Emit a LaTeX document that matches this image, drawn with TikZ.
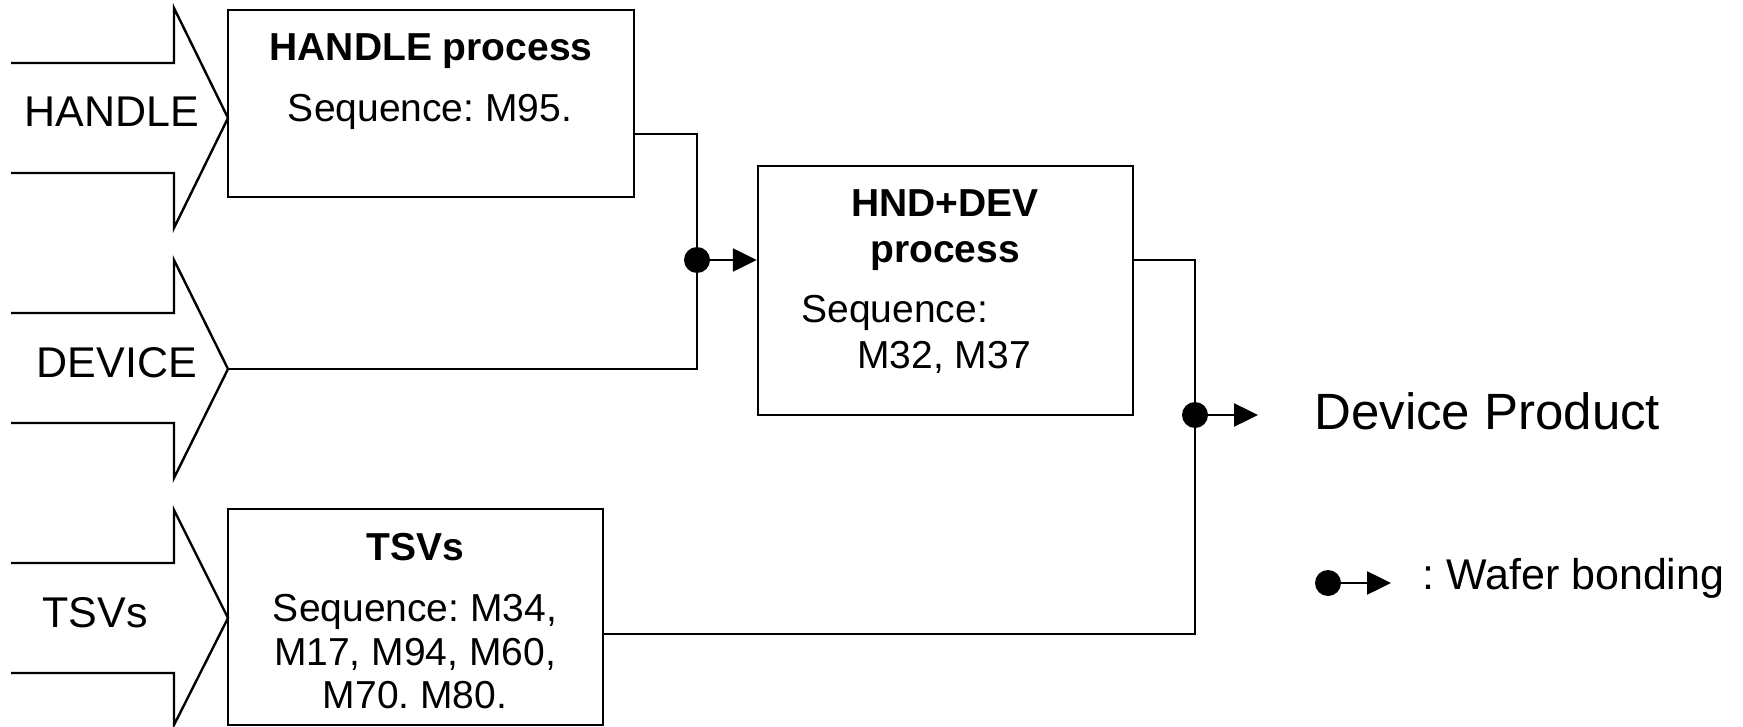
\documentclass[tikz,border=0pt]{standalone}
\usepackage{fontspec}
\setmainfont{Liberation Sans}
\usetikzlibrary{arrows.meta,calc}
\frenchspacing
\begin{document}
\frenchspacing
\begin{tikzpicture}[x=0.5pt,y=-0.5pt,
  lw/.style={line width=1.2pt},
  box/.style={draw,lw,rectangle,inner sep=0pt},
  inarrow/.style={draw,lw,line join=miter},
  conn/.style={draw,lw},
  bond/.style={draw,lw,-{Triangle[length=12pt,width=11.5pt]}},
  dot/.style={circle,fill=black,inner sep=0pt,minimum size=13pt},
  lbl/.style={anchor=base,inner sep=0pt,font=\fontsize{21.5pt}{24pt}\selectfont},
  btxt/.style={anchor=base,inner sep=0pt,font=\fontsize{19.5pt}{22pt}\selectfont},
  bbold/.style={btxt,font=\fontsize{19.5pt}{22pt}\selectfont\bfseries},
  bigtxt/.style={anchor=base west,inner sep=0pt,font=\fontsize{25.5pt}{28pt}\selectfont},
  legtxt/.style={anchor=base west,inner sep=0pt,font=\fontsize{21.5pt}{24pt}\selectfont}
]
\useasboundingbox (0,0) rectangle (1743,727);

% input arrows
\draw[inarrow] (11,63) -- (174,63) -- (174,8) -- (228,118) -- (174,228) -- (174,173) -- (11,173);
\draw[inarrow] (11,313) -- (174,313) -- (174,260) -- (228,369) -- (174,478) -- (174,423) -- (11,423);
\draw[inarrow] (11,563) -- (174,563) -- (174,510) -- (228,618) -- (174,725) -- (174,673) -- (11,673);
\coordinate (devtip) at (228,369);
\node[lbl] (lhandle) at (112,127) {HANDLE};
\node[lbl] (ldevice) at (117,377) {DEVICE};
\node[lbl] (ltsv) at (95,627) {TSVs};

% boxes
\node[box,minimum width=203pt,minimum height=93.5pt] (hp) at (431,103.5) {};
\node[box,minimum width=187.5pt,minimum height=124.5pt] (hd) at (945.5,290.5) {};
\node[box,minimum width=187.5pt,minimum height=108pt] (ts) at (415.5,617) {};

% box texts
\node[bbold] (hpt) at (431,61) {HANDLE process};
\node[btxt] (hps) at (430,122) {Sequence: M95.};
\node[bbold] (hdt1) at (945,217) {HND+DEV};
\node[bbold] (hdt2) at (945,262) {process};
\node[btxt,anchor=base west] (hds1) at (801,322) {Sequence:};
\node[btxt,anchor=base west] (hds2) at (857,368) {M32, M37};
\node[bbold] (tst) at (415,560) {TSVs};
\node[btxt] (tss1) at (415,621) {Sequence: M34,};
\node[btxt] (tss2) at (415,665) {M17, M94, M60,};
\node[btxt] (tss3) at (415,708) {M70. M80.};

% junctions
\node[dot] (j1) at (697,260) {};
\node[dot] (j2) at (1195,415) {};
\coordinate (hpy) at (0,134);
\coordinate (tsy) at (0,634);
\coordinate (prod) at (1258,415);

\draw[conn] (hp.east |- hpy) -| (j1.center);
\draw[conn] (devtip) -| (j1.center);
\draw[bond] (j1.center) -- (hd.west |- j1.center);

\draw[conn] (hd.east |- j1.center) -| (j2.center);
\draw[conn] (ts.east |- tsy) -| (j2.center);
\draw[bond] (j2.center) -- (prod);

\node[bigtxt] (product) at (1314,429) {Device Product};

% legend
\node[dot] (lg1) at (1328,583) {};
\coordinate (lg2) at (1391,583);
\draw[bond] (lg1.center) -- (lg2);
\node[legtxt] (legt) at (1422,589) {: Wafer bonding};
\end{tikzpicture}
\end{document}
